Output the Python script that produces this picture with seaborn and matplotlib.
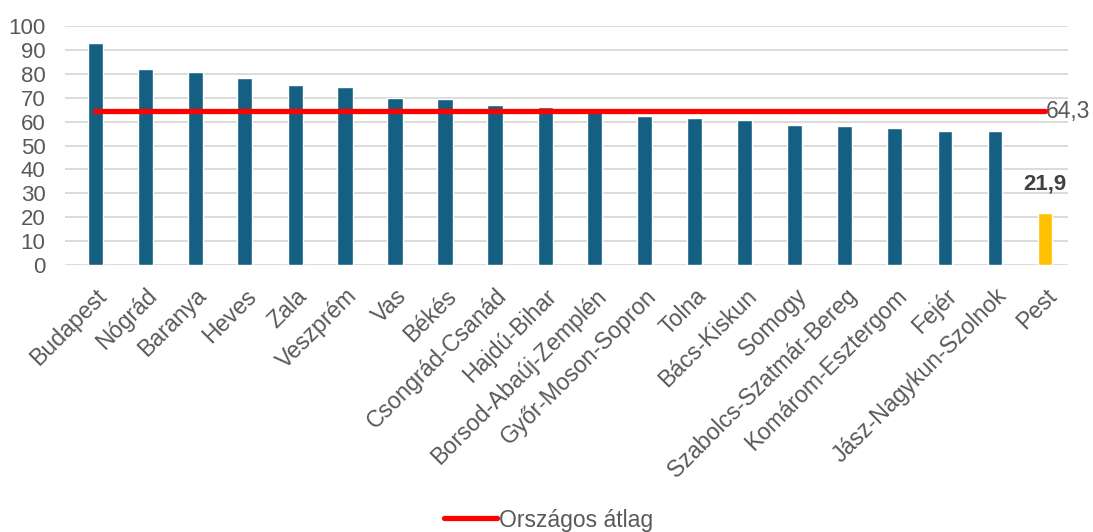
import matplotlib
matplotlib.use("Agg")
import matplotlib.pyplot as plt
import seaborn as sns
import pandas as pd

categories = ["Budapest", "Nógrád", "Baranya", "Heves", "Zala", "Veszprém", "Vas", "Békés",
              "Csongrád-Csanád", "Hajdú-Bihar", "Borsod-Abaúj-Zemplén", "Győr-Moson-Sopron",
              "Tolna", "Bács-Kiskun", "Somogy", "Szabolcs-Szatmár-Bereg", "Komárom-Esztergom",
              "Fejér", "Jász-Nagykun-Szolnok", "Pest"]
values = [93.0, 81.9, 80.8, 78.3, 75.5, 74.4, 69.7, 69.3, 67.0, 66.3, 64.0, 62.5,
          61.5, 60.8, 58.6, 58.1, 57.3, 56.2, 56.2, 21.9]
national_avg = 64.3
avg_label = "64,3"
pest_label = "21,9"
legend_label = "Országos átlag"
yticks = list(range(0, 101, 10))

sns.set_theme(style="white")
plt.rcParams['font.family'] = ['Liberation Sans', 'DejaVu Sans']

text_color = "#595959"
bar_color = "#156082"
pest_color = "#FFC000"
palette = [bar_color] * (len(categories) - 1) + [pest_color]
fs = 16

df = pd.DataFrame({"megye": categories, "ertek": values})

fig = plt.figure(figsize=(10.93, 5.32), dpi=100)
ax = fig.add_axes([65 / 1093, 1 - 265 / 532, (1068 - 65) / 1093, (265 - 26) / 532])

sns.barplot(data=df, x="megye", y="ertek", hue="megye", palette=palette,
            width=0.3, legend=False, ax=ax, saturation=1, errorbar=None)

avg_line, = ax.plot(categories, [national_avg] * len(categories), color="#FF0000", lw=3.8,
                    solid_capstyle="round", label=legend_label, zorder=5)
ax.text(len(categories) - 1 + 0.02, national_avg, avg_label, color=text_color,
        fontsize=16.5, va="center", ha="left")
ax.text(len(categories) - 1, values[-1] + 7.5, pest_label, color="#404040",
        fontsize=fs, fontweight="bold", ha="center", va="bottom")

ax.set_ylim(0, 100)
ax.set_xlim(-0.6, len(categories) - 0.54)
ax.set_yticks(yticks)
ax.yaxis.grid(True, color="#D9D9D9", lw=1.3)
ax.set_axisbelow(True)
for s in ax.spines.values():
    s.set_visible(False)
ax.set_xlabel("")
ax.set_ylabel("")
ax.tick_params(axis="y", length=0, pad=14, labelsize=fs, labelcolor=text_color)
ax.tick_params(axis="x", length=0, pad=14, labelsize=16.7, labelcolor=text_color)
ax.set_xticks(range(len(categories)))
ax.set_xticklabels(categories, rotation=45, ha="right", rotation_mode="anchor")

fig.legend(handles=[avg_line], labels=[legend_label], loc="center",
           bbox_to_anchor=(549 / 1093, 1 - 520 / 532), frameon=False,
           fontsize=16.5, handlelength=2.3, handletextpad=0.1,
           labelcolor=text_color)

fig.savefig("out.png", dpi=100)
